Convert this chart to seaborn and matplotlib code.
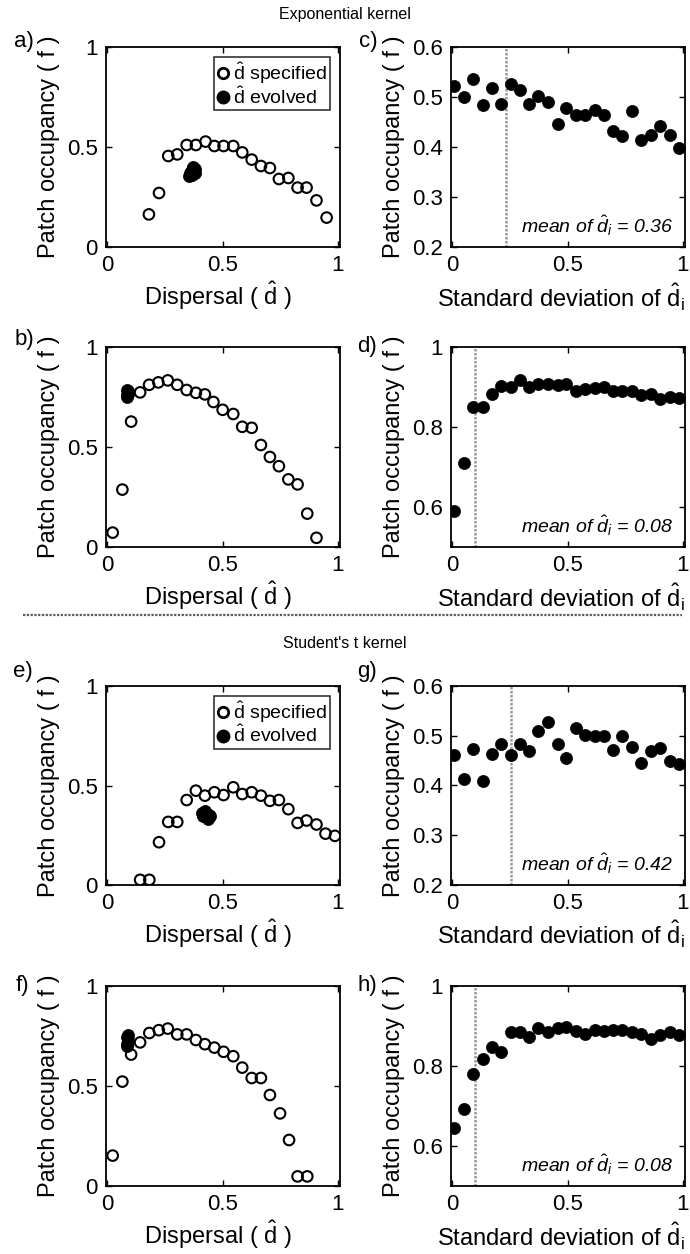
import numpy as np
import pandas as pd
import matplotlib
matplotlib.use("Agg")
import matplotlib.pyplot as plt
import seaborn as sns
from matplotlib.lines import Line2D

sns.set_theme(style="ticks")
plt.rcParams['font.family'] = ['Liberation Sans', 'DejaVu Sans']
plt.rcParams['mathtext.fontset'] = 'custom'
plt.rcParams['mathtext.rm'] = 'Liberation Sans'
plt.rcParams['mathtext.it'] = 'Liberation Sans:italic'
plt.rcParams['mathtext.bf'] = 'Liberation Sans:bold'
plt.rcParams['text.color'] = 'black'
plt.rcParams['axes.labelcolor'] = 'black'

# ---------------- data ----------------
# Exponential kernel
a_spec_x = [0.18, 0.224, 0.264, 0.303, 0.344, 0.384, 0.426, 0.464, 0.504, 0.546, 0.585, 0.626, 0.666, 0.705, 0.744, 0.785, 0.825, 0.864, 0.907, 0.951]
a_spec_y = [0.163, 0.27, 0.455, 0.463, 0.51, 0.51, 0.527, 0.505, 0.505, 0.505, 0.473, 0.437, 0.405, 0.395, 0.34, 0.345, 0.297, 0.297, 0.233, 0.147]
a_evo_x = [0.355, 0.36, 0.365, 0.37, 0.372, 0.375, 0.378, 0.38, 0.368, 0.362]
a_evo_y = [0.355, 0.37, 0.385, 0.395, 0.40, 0.38, 0.39, 0.37, 0.36, 0.375]

b_spec_x = [0.023, 0.065, 0.103, 0.142, 0.181, 0.221, 0.262, 0.303, 0.344, 0.384, 0.423, 0.46, 0.5, 0.546, 0.585, 0.626, 0.666, 0.705, 0.744, 0.785, 0.825, 0.867, 0.907]
b_spec_y = [0.072, 0.287, 0.627, 0.773, 0.811, 0.823, 0.833, 0.811, 0.785, 0.771, 0.763, 0.725, 0.686, 0.665, 0.601, 0.596, 0.51, 0.45, 0.404, 0.338, 0.313, 0.167, 0.046]
b_evo_x = [0.085, 0.087, 0.088, 0.09, 0.086, 0.089]
b_evo_y = [0.75, 0.76, 0.77, 0.78, 0.785, 0.765]

sd_levels = [0.009, 0.05, 0.091, 0.131, 0.172, 0.211, 0.253, 0.292, 0.334, 0.373, 0.413, 0.457, 0.494,
             0.535, 0.575, 0.618, 0.658, 0.698, 0.737, 0.780, 0.819, 0.860, 0.900, 0.944, 0.984]
c_y = [0.522, 0.50, 0.537, 0.485, 0.519, 0.486, 0.527, 0.514, 0.486, 0.503, 0.49, 0.447, 0.479,
       0.464, 0.464, 0.475, 0.464, 0.433, 0.422, 0.473, 0.414, 0.425, 0.443, 0.424, 0.398]
d_y = [0.589, 0.711, 0.85, 0.85, 0.882, 0.902, 0.9, 0.918, 0.9, 0.908, 0.908, 0.905, 0.908,
       0.889, 0.895, 0.897, 0.9, 0.89, 0.89, 0.889, 0.879, 0.883, 0.871, 0.875, 0.872]

# Student's t kernel
e_spec_x = [0.142, 0.182, 0.224, 0.264, 0.303, 0.344, 0.384, 0.423, 0.464, 0.504, 0.546, 0.585, 0.626, 0.666, 0.705, 0.744, 0.785, 0.825, 0.864, 0.907, 0.946, 0.987]
e_spec_y = [0.026, 0.026, 0.215, 0.317, 0.317, 0.427, 0.474, 0.449, 0.466, 0.452, 0.491, 0.457, 0.466, 0.449, 0.423, 0.427, 0.381, 0.312, 0.324, 0.304, 0.258, 0.247]
e_evo_x = [0.41, 0.42, 0.43, 0.44, 0.445, 0.425, 0.435, 0.415]
e_evo_y = [0.36, 0.35, 0.34, 0.35, 0.345, 0.37, 0.33, 0.345]

f_spec_x = [0.023, 0.065, 0.103, 0.142, 0.182, 0.223, 0.262, 0.303, 0.344, 0.384, 0.423, 0.464, 0.504, 0.546, 0.585, 0.626, 0.666, 0.705, 0.749, 0.788, 0.825, 0.867]
f_spec_y = [0.152, 0.522, 0.657, 0.718, 0.765, 0.779, 0.787, 0.758, 0.758, 0.73, 0.709, 0.692, 0.671, 0.649, 0.592, 0.54, 0.54, 0.455, 0.363, 0.23, 0.048, 0.048]
f_evo_x = [0.085, 0.087, 0.088, 0.09, 0.086, 0.089]
f_evo_y = [0.70, 0.71, 0.72, 0.73, 0.745, 0.755]

g_y = [0.461, 0.414, 0.474, 0.41, 0.464, 0.484, 0.461, 0.484, 0.469, 0.509, 0.527, 0.484, 0.456,
       0.515, 0.501, 0.499, 0.499, 0.472, 0.499, 0.478, 0.446, 0.469, 0.476, 0.449, 0.444]
h_y = [0.646, 0.693, 0.781, 0.817, 0.847, 0.834, 0.886, 0.884, 0.873, 0.896, 0.886, 0.894, 0.897,
       0.888, 0.881, 0.89, 0.888, 0.89, 0.89, 0.884, 0.881, 0.867, 0.877, 0.884, 0.877]

vline_pos = {"c": 0.231, "d": 0.10, "g": 0.253, "h": 0.098}
mean_vals = {"c": "0.36", "d": "0.08", "g": "0.42", "h": "0.08"}

x_ticks = [0, 0.5, 1]
x_ticklabels = ["0", "0.5", "1"]
occ_ticks = [0, 0.5, 1]
occ_ticklabels = ["0", "0.5", "1"]
low_ticks = [0.2, 0.3, 0.4, 0.5, 0.6]
low_ticklabels = ["0.2", "0.3", "0.4", "0.5", "0.6"]
high_ticks = [0.6, 0.8, 1.0]
high_ticklabels = ["0.6", "0.8", "1"]

# ---------------- figure ----------------
W, H = 690, 1254
fig = plt.figure(figsize=(W / 100, H / 100), dpi=100)
fig.patch.set_facecolor("white")


def add_ax(left, top, right, bottom):
    return fig.add_axes([left / W, 1 - bottom / H, (right - left) / W, (bottom - top) / H])


def style_ax(ax):
    ax.set_facecolor("white")
    for sp in ax.spines.values():
        sp.set_visible(True)
        sp.set_color("black")
        sp.set_linewidth(1.3)
    ax.tick_params(direction="in", top=True, right=True, length=4, width=1,
                   labelsize=16, pad=6, colors="black")
    ax.set_xlim(-0.006, 1.009)
    ax.set_xticks(x_ticks)
    ax.set_xticklabels(x_ticklabels)


XL_D = r"Dispersal ( $\hat{\mathrm{d}}$ )"
XL_S = r"Standard deviation of $\hat{\mathrm{d}}_{\mathrm{i}}$"
YL = "Patch occupancy ( f )"

open_kw = dict(s=58, facecolors="none", edgecolor="black", linewidth=1.5, zorder=3)
fill_kw = dict(s=76, color="black", edgecolor="black", linewidth=0.5, zorder=4)


def dispersal_panel(ax, sx, sy, ex, ey, legend=False):
    style_ax(ax)
    sns.scatterplot(x=sx, y=sy, ax=ax, **open_kw)
    sns.scatterplot(x=ex, y=ey, ax=ax, **fill_kw)
    ax.set_ylim(0, 1)
    ax.set_yticks(occ_ticks)
    ax.set_yticklabels(occ_ticklabels)
    ax.set_xlabel(XL_D, fontsize=17)
    ax.xaxis.set_label_coords(0.479, -0.245)
    ax.xaxis.label.set_va("center")
    ax.set_ylabel(YL, fontsize=17, labelpad=5)
    if legend:
        handles = [
            Line2D([], [], ls="none", marker="o", markersize=7.5, markerfacecolor="none",
                   markeredgecolor="black", markeredgewidth=2.0),
            Line2D([], [], ls="none", marker="o", markersize=9, markerfacecolor="black",
                   markeredgecolor="black"),
        ]
        leg = ax.legend(handles, [r"$\hat{\mathrm{d}}$ specified", r"$\hat{\mathrm{d}}$ evolved"],
                        loc="upper right", fontsize=14, frameon=True, fancybox=False,
                        handlelength=0.6, handletextpad=0.25, borderpad=0.15,
                        labelspacing=0.0, borderaxespad=0.5)
        leg.get_frame().set_edgecolor("black")
        leg.get_frame().set_linewidth(1.2)


def sd_panel(ax, yv, key, ylim, ticks, ticklabels):
    style_ax(ax)
    ax.axvline(vline_pos[key], color="0.6", ls=(0, (1, 0.6)), lw=1.8, zorder=1)
    sns.scatterplot(x=sd_levels, y=yv, ax=ax, **fill_kw)
    ax.set_ylim(*ylim)
    ax.set_yticks(ticks)
    ax.set_yticklabels(ticklabels)
    ax.set_xlabel(XL_S, fontsize=17)
    ax.xaxis.set_label_coords(0.47, -0.25)
    ax.xaxis.label.set_va("center")
    ax.set_ylabel(YL, fontsize=17, labelpad=5)
    ax.text(0.95, 0.045, r"mean of $\hat{d}_i$ = " + mean_vals[key], transform=ax.transAxes,
            ha="right", va="bottom", fontsize=14, style="italic")


LC, RC = (106, 340), (451, 685)
rows = {"a": (47, 247), "b": (347, 547), "e": (686, 885), "f": (986, 1186)}

ax_a = add_ax(LC[0], rows["a"][0], LC[1], rows["a"][1])
ax_c = add_ax(RC[0], rows["a"][0], RC[1], rows["a"][1])
ax_b = add_ax(LC[0], rows["b"][0], LC[1], rows["b"][1])
ax_d = add_ax(RC[0], rows["b"][0], RC[1], rows["b"][1])
ax_e = add_ax(LC[0], rows["e"][0], LC[1], rows["e"][1])
ax_g = add_ax(RC[0], rows["e"][0], RC[1], rows["e"][1])
ax_f = add_ax(LC[0], rows["f"][0], LC[1], rows["f"][1])
ax_h = add_ax(RC[0], rows["f"][0], RC[1], rows["f"][1])

dispersal_panel(ax_a, a_spec_x, a_spec_y, a_evo_x, a_evo_y, legend=True)
dispersal_panel(ax_b, b_spec_x, b_spec_y, b_evo_x, b_evo_y)
dispersal_panel(ax_e, e_spec_x, e_spec_y, e_evo_x, e_evo_y, legend=True)
dispersal_panel(ax_f, f_spec_x, f_spec_y, f_evo_x, f_evo_y)

sd_panel(ax_c, c_y, "c", (0.2, 0.6), low_ticks, low_ticklabels)
sd_panel(ax_d, d_y, "d", (0.5, 1.0), high_ticks, high_ticklabels)
sd_panel(ax_g, g_y, "g", (0.2, 0.6), low_ticks, low_ticklabels)
sd_panel(ax_h, h_y, "h", (0.5, 1.0), high_ticks, high_ticklabels)

# panel letters
letters = {"a)": (24, 42), "b)": (24, 340), "e)": (23, 671), "f)": (22, 985),
           "c)": (368, 41), "d)": (367, 346), "g)": (367, 672), "h)": (367, 985)}
for lab, (px, py) in letters.items():
    fig.text(px / W, 1 - py / H, lab, fontsize=16, ha="center", va="center")

# section titles
fig.text(345 / W, 1 - 14 / H, "Exponential kernel", fontsize=11.5, ha="center", va="center")
fig.text(345 / W, 1 - 643 / H, "Student's t kernel", fontsize=11.5, ha="center", va="center")

# dotted separator
fig.add_artist(Line2D([23 / W, 682 / W], [1 - 615 / H, 1 - 615 / H], transform=fig.transFigure,
                      color="0.35", ls=(0, (1, 0.7)), lw=1.6))

fig.savefig("out.png", dpi=100, facecolor="white")
